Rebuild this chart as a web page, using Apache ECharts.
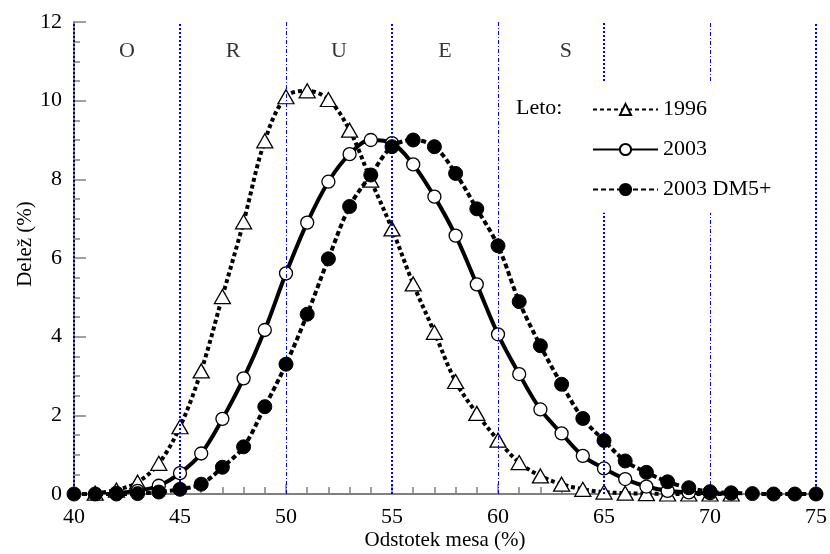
<!DOCTYPE html>
<html>
<head>
<meta charset="utf-8">
<script src="https://cdn.jsdelivr.net/npm/echarts@6/dist/echarts.min.js"></script>
<style>
  html, body { margin: 0; padding: 0; background: #fff; }
  #chart { width: 830px; height: 554px; }
</style>
</head>
<body>
<div id="chart"></div>
<script>
// x positions (odstotek mesa)
var xs = [40,41,42,43,44,45,46,47,48,49,50,51,52,53,54,55,56,57,58,59,60,61,62,63,64,65,66,67,68,69,70,71,72,73,74,75]

// delez (%) po letih, null = ni tocke
var v1996 = [null,0.02,0.1,0.3,0.78,1.71,3.13,5.02,6.92,8.98,10.1,10.25,10.03,9.25,7.98,6.74,5.34,4.11,2.86,2.05,1.37,0.8,0.46,0.25,0.12,0.05,0.02,0.01,0,0,0,0,null,null,null,null]
var v2003 = [null,null,0.03,0.08,0.21,0.53,1.03,1.91,2.94,4.17,5.61,6.9,7.94,8.64,9.0,8.92,8.38,7.56,6.57,5.33,4.06,3.05,2.15,1.54,0.97,0.65,0.38,0.19,0.08,0.04,0.02,0.01,null,null,null,null]
var v2003dm = [0,0,0,0.01,0.05,0.12,0.25,0.68,1.2,2.22,3.3,4.57,5.98,7.31,8.11,8.83,9.0,8.83,8.15,7.25,6.31,4.89,3.77,2.79,1.92,1.36,0.84,0.55,0.31,0.16,0.06,0.03,0.01,0,0,0]

// razredi SEUROP
var classNames = ['O','R','U','E','S']
var classPos = [42.5,47.5,52.5,57.5,63.2]
var classY = 11.25

// navpicne meje razredov
var borders = [40,45,50,55,60,65,70,75]
// meje, ki jih prekinja legenda, in obseg prekinitve (v enotah y)
var legendCut = [65, 70]
var cutFrom = 7.15
var cutTo = 10.5

var font = 'Liberation Serif'

function pairs(vals) {
  var out = []
  for (var i = 0; i < xs.length; i++) {
    if (vals[i] !== null) out.push([xs[i], vals[i]])
  }
  return out
}

function borderStyle(x) {
  if (x === 40) return { color: '#000080', width: 2, type: [2, 2] }
  if (x % 10 === 5) return { color: '#0000ff', width: 2, type: [2, 2] }
  return { color: '#0000ff', width: 1, type: [4, 2, 1, 2] }
}

function borderLines() {
  var out = []
  borders.forEach(function (b) {
    var st = borderStyle(b)
    if (legendCut.indexOf(b) >= 0) {
      out.push([{ coord: [b, 0], lineStyle: st }, { coord: [b, cutFrom] }])
      out.push([{ coord: [b, cutTo], lineStyle: st }, { coord: [b, 12] }])
    } else {
      out.push([{ coord: [b, 0], lineStyle: st }, { coord: [b, 12] }])
    }
  })
  return out
}

var chart = echarts.init(document.getElementById('chart'))

var option = {
  animation: false,
  backgroundColor: '#fff',
  textStyle: { fontFamily: font },
  grid: { left: 74, right: 14, top: 22, bottom: 60, outerBoundsMode: 'none', containLabel: false },
  xAxis: {
    type: 'value',
    min: 40, max: 75, interval: 5,
    name: 'Odstotek mesa (%)',
    nameLocation: 'middle',
    nameGap: 36,
    nameMoveOverlap: false,
    nameTextStyle: { fontFamily: font, fontSize: 21, color: '#000' },
    axisLine: { lineStyle: { color: '#808080', width: 2 } },
    axisTick: { inside: true, length: 10, lineStyle: { color: '#808080', width: 1.5 } },
    minorTick: { show: true, splitNumber: 5, length: 7, lineStyle: { color: '#808080', width: 1.5 } },
    axisLabel: { fontFamily: font, fontSize: 22, color: '#000', margin: 12 },
    splitLine: { show: false }
  },
  yAxis: {
    type: 'value',
    min: 0, max: 12, interval: 2,
    name: 'Delež (%)',
    nameLocation: 'middle',
    nameGap: 38,
    nameMoveOverlap: false,
    nameTextStyle: { fontFamily: font, fontSize: 21, color: '#000', padding: [0, 0, 0, 28] },
    axisLine: { show: true, lineStyle: { color: '#808080', width: 2 } },
    axisTick: { inside: true, length: 12, lineStyle: { color: '#808080', width: 1.5 } },
    minorTick: { show: true, splitNumber: 4, length: 6, lineStyle: { color: '#808080', width: 1.5 } },
    axisLabel: { fontFamily: font, fontSize: 22, color: '#000', margin: 12 },
    splitLine: { show: false }
  },
  legend: {
    data: ['1996', '2003', '2003 DM5+'],
    orient: 'vertical',
    left: 582,
    top: 83,
    padding: [15, 10, 15, 10],
    itemWidth: 65,
    itemHeight: 14,
    itemGap: 17,
    textStyle: { fontFamily: font, fontSize: 22, color: '#000', lineHeight: 23 }
  },
  graphic: [{
    type: 'text',
    left: 516,
    top: 97,
    style: { text: 'Leto:', font: '22px "Liberation Serif"', fill: '#000' }
  }],
  series: [
    {
      name: 'meje',
      type: 'scatter',
      z: 1,
      silent: true,
      symbolSize: 0,
      data: classNames.map(function (n, i) { return [classPos[i], classY, n] }),
      label: {
        show: true,
        position: 'inside',
        formatter: function (p) { return p.value[2] },
        fontFamily: font, fontSize: 22, color: '#000'
      },
      markLine: {
        silent: true,
        symbol: ['none', 'none'],
        label: { show: false },
        data: borderLines()
      }
    },
    {
      name: '1996',
      type: 'line',
      z: 3,
      smooth: 0.35,
      data: pairs(v1996),
      symbol: 'triangle',
      symbolSize: [16, 14],
      lineStyle: { color: '#000', width: 4, type: [4, 3] },
      itemStyle: { color: '#fff', borderColor: '#000', borderWidth: 1.3 }
    },
    {
      name: '2003',
      type: 'line',
      z: 4,
      smooth: 0.35,
      data: pairs(v2003),
      symbol: 'circle',
      symbolSize: 13,
      lineStyle: { color: '#000', width: 4 },
      itemStyle: { color: '#fff', borderColor: '#000', borderWidth: 1.3 }
    },
    {
      name: '2003 DM5+',
      type: 'line',
      z: 5,
      smooth: 0.35,
      data: pairs(v2003dm),
      symbol: 'circle',
      symbolSize: 14,
      lineStyle: { color: '#000', width: 4, type: [5, 3] },
      itemStyle: { color: '#000', borderColor: '#000', borderWidth: 1 }
    }
  ]
}

chart.setOption(option)
</script>
</body>
</html>
